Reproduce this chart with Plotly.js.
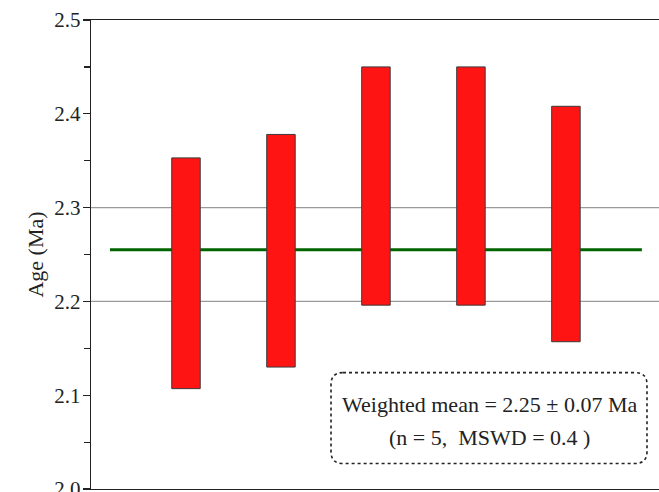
<!DOCTYPE html>
<html>
<head>
<meta charset="utf-8">
<script src="https://cdn.plot.ly/plotly-3.0.1.min.js"></script>
<style>html,body{margin:0;padding:0;background:#fff;}#chart{width:659px;height:492px;}</style>
</head>
<body>
<div id="chart"></div>
<script>
// Data
const samples = [1, 2, 3, 4, 5];
const ageLow = [2.107, 2.130, 2.196, 2.196, 2.157];
const ageHigh = [2.353, 2.378, 2.450, 2.450, 2.408];
const weightedMean = 2.255;
const meanLineX = [0.2, 5.8];
const gridLevels = [2.2, 2.3];
const yTicks = [2.0, 2.1, 2.2, 2.3, 2.4, 2.5];
const yTickText = ['2.0', '2.1', '2.2', '2.3', '2.4', '2.5'];
const boxLines = ['Weighted mean = 2.25 ± 0.07 Ma', '(n = 5,&nbsp;&nbsp;MSWD = 0.4 )'];

const serif = 'Liberation Serif';

const meanLine = {
  type: 'scatter', mode: 'lines', xaxis: 'x', yaxis: 'y',
  x: meanLineX, y: [weightedMean, weightedMean],
  line: {color: '#006400', width: 3},
  hoverinfo: 'skip'
};
const bars = {
  type: 'bar', xaxis: 'x2', yaxis: 'y2',
  x: samples,
  base: ageLow,
  y: ageHigh.map((h, i) => h - ageLow[i]),
  width: 0.3,
  marker: {color: '#ff1414', line: {color: '#3a3a3a', width: 1}},
  hoverinfo: 'skip'
};

const shapes = gridLevels.map(g => ({
  type: 'line', xref: 'paper', x0: 0, x1: 1, yref: 'y', y0: g, y1: g,
  line: {color: '#9a9a9a', width: 1.2}, layer: 'below'
}));

// rounded dashed box in paper coordinates
const W = 568, H = 469.5;
const bx0 = (331 - 91) / W, bx1 = (647 - 91) / W;
const by1 = 1 - (373 - 20) / H, by0 = 1 - (464 - 20) / H;
const rx = 12 / W, ry = 12 / H;
const path = `M ${bx0 + rx},${by1} L ${bx1 - rx},${by1} Q ${bx1},${by1} ${bx1},${by1 - ry} ` +
  `L ${bx1},${by0 + ry} Q ${bx1},${by0} ${bx1 - rx},${by0} L ${bx0 + rx},${by0} ` +
  `Q ${bx0},${by0} ${bx0},${by0 + ry} L ${bx0},${by1 - ry} Q ${bx0},${by1} ${bx0 + rx},${by1} Z`;
shapes.push({type: 'path', xref: 'paper', yref: 'paper', path: path,
  line: {color: '#222', width: 1.6, dash: 'dot'}, fillcolor: 'rgba(255,255,255,1)', layer: 'above'});

const xr = [0, 5.98], yr = [2.0, 2.5];
const layout = {
  width: 659, height: 492,
  margin: {l: 91, r: 0, t: 20, b: 2.5},
  paper_bgcolor: '#fff', plot_bgcolor: '#fff',
  showlegend: false,
  xaxis: {
    range: xr, showgrid: false, zeroline: false, showticklabels: false,
    ticks: '', showline: true, linecolor: '#222', linewidth: 1.2, mirror: true, fixedrange: true
  },
  xaxis2: {range: xr, overlaying: 'x', visible: false, fixedrange: true},
  yaxis2: {range: yr, overlaying: 'y', visible: false, fixedrange: true},
  yaxis: {
    range: yr, showgrid: false, zeroline: false,
    tickvals: yTicks, ticktext: yTickText, ticks: 'outside', ticklen: 7, tickwidth: 1.2, tickcolor: '#222',
    minor: {dtick: 0.05, ticks: 'outside', ticklen: 6, tickwidth: 1.2, tickcolor: '#222', showgrid: false},
    showline: true, linecolor: '#222', linewidth: 1.2, automargin: false, ticklabeloverflow: 'allow',
    ticklabelstandoff: -2,
    tickfont: {family: serif, size: 21, color: '#222'},
    title: {text: 'Age (Ma)', font: {family: serif, size: 22, color: '#222'}, standoff: 4},
    fixedrange: true
  },
  shapes: shapes,
  annotations: [
    {xref: 'paper', yref: 'paper', x: ((bx0 + bx1) / 2), y: 1 - (405 - 20) / H, text: boxLines[0],
     showarrow: false, font: {family: serif, size: 22, color: '#222'}, xanchor: 'center', yanchor: 'middle'},
    {xref: 'paper', yref: 'paper', x: ((bx0 + bx1) / 2), y: 1 - (438 - 20) / H, text: boxLines[1],
     showarrow: false, font: {family: serif, size: 22, color: '#222'}, xanchor: 'center', yanchor: 'middle'}
  ],
  bargap: 0
};

Plotly.newPlot('chart', [meanLine, bars], layout, {displayModeBar: false, staticPlot: true});
</script>
</body>
</html>
